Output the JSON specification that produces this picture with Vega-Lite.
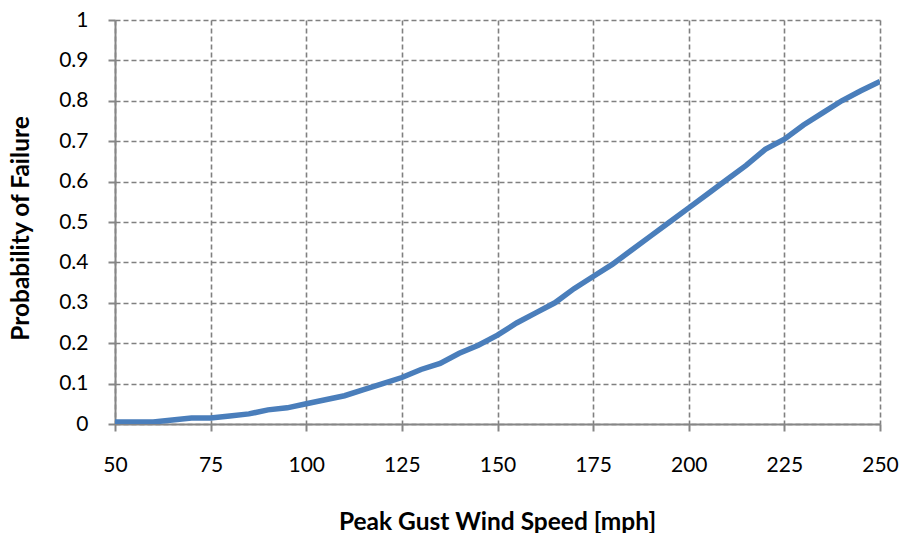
{
  "$schema": "https://vega.github.io/schema/vega-lite/v6.json",
  "width": 765,
  "height": 404,
  "autosize": {"type": "none"},
  "padding": {"left": 115, "top": 20, "right": 23, "bottom": 109},
  "background": "white",
  "config": {"view": {"stroke": null}, "font": "Lato"},
  "data": {"values": [
    {"speed": 50, "p": 0.005}, {"speed": 55, "p": 0.005}, {"speed": 60, "p": 0.005},
    {"speed": 65, "p": 0.01}, {"speed": 70, "p": 0.015}, {"speed": 75, "p": 0.015},
    {"speed": 80, "p": 0.02}, {"speed": 85, "p": 0.025}, {"speed": 90, "p": 0.035},
    {"speed": 95, "p": 0.04}, {"speed": 100, "p": 0.05}, {"speed": 105, "p": 0.06},
    {"speed": 110, "p": 0.07}, {"speed": 115, "p": 0.085}, {"speed": 120, "p": 0.1},
    {"speed": 125, "p": 0.115}, {"speed": 130, "p": 0.135}, {"speed": 135, "p": 0.15},
    {"speed": 140, "p": 0.175}, {"speed": 145, "p": 0.195}, {"speed": 150, "p": 0.22},
    {"speed": 155, "p": 0.25}, {"speed": 160, "p": 0.275}, {"speed": 165, "p": 0.3},
    {"speed": 170, "p": 0.335}, {"speed": 175, "p": 0.365}, {"speed": 180, "p": 0.395},
    {"speed": 185, "p": 0.43}, {"speed": 190, "p": 0.465}, {"speed": 195, "p": 0.5},
    {"speed": 200, "p": 0.535}, {"speed": 205, "p": 0.57}, {"speed": 210, "p": 0.605},
    {"speed": 215, "p": 0.64}, {"speed": 220, "p": 0.68}, {"speed": 225, "p": 0.705},
    {"speed": 230, "p": 0.74}, {"speed": 235, "p": 0.77}, {"speed": 240, "p": 0.8},
    {"speed": 245, "p": 0.825}, {"speed": 250, "p": 0.848}
  ]},
  "mark": {"type": "line", "color": "#4a7ebb", "strokeWidth": 5.5, "clip": true},
  "encoding": {
    "x": {
      "field": "speed", "type": "quantitative",
      "scale": {"domain": [50, 250], "nice": false, "zero": false},
      "axis": {
        "values": [50, 75, 100, 125, 150, 175, 200, 225, 250],
        "title": "Peak Gust Wind Speed [mph]",
        "titleFontSize": 24.5, "titleFontWeight": "bold", "titleColor": "#000",
        "titleX": 382, "titleY": 98, "titleBaseline": "middle",
        "labelFontSize": 21, "labelColor": "#000", "labelPadding": 23,
        "tickSize": 7, "tickColor": "#868686", "domainColor": "#868686", "domainWidth": 2, "tickWidth": 2,
        "grid": true, "gridColor": "#808080", "gridDash": [5, 3], "gridWidth": 1.6,
        "labelFlush": false
      }
    },
    "y": {
      "field": "p", "type": "quantitative",
      "scale": {"domain": [0, 1], "nice": false},
      "axis": {
        "values": [0, 0.1, 0.2, 0.3, 0.4, 0.5, 0.6, 0.7, 0.8, 0.9, 1],
        "format": "~g",
        "title": "Probability of Failure",
        "titleFontSize": 24.5, "titleFontWeight": "bold", "titleColor": "#000",
        "titleX": -94, "titleY": 208, "titleBaseline": "middle", "titleAngle": -90,
        "labelFontSize": 21, "labelColor": "#000", "labelPadding": 20,
        "tickSize": 7, "tickColor": "#868686", "domainColor": "#868686", "domainWidth": 2, "tickWidth": 2,
        "grid": true, "gridColor": "#808080", "gridDash": [5, 3], "gridWidth": 1.6
      }
    }
  }
}
